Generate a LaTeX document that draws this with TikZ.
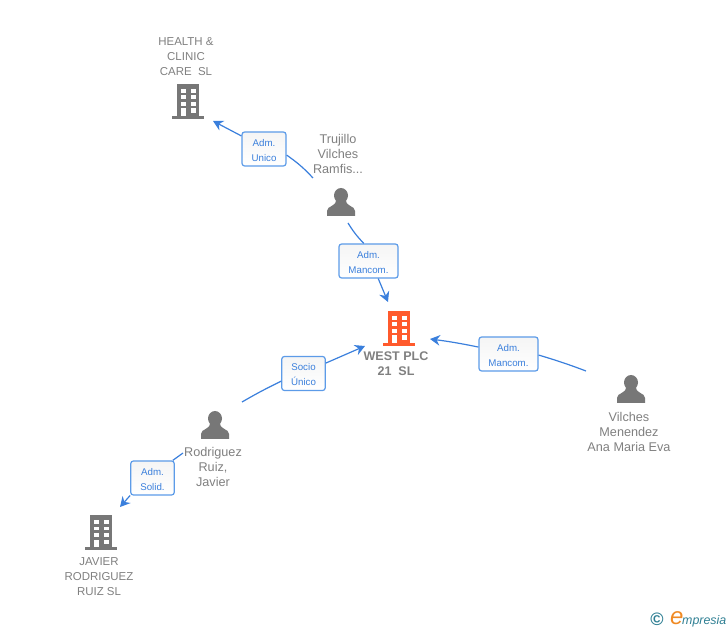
\documentclass[tikz,border=0pt]{standalone}
\usepackage{fontspec}
\setmainfont{Liberation Sans}
\usepackage{xcolor}
\usetikzlibrary{arrows.meta,positioning}
\definecolor{linkblue}{HTML}{3A7FDC}
\definecolor{boxblue}{HTML}{5C9BE8}
\definecolor{iconblack}{HTML}{777777}
\definecolor{iconorange}{HTML}{FF5A2C}
\definecolor{namegrey}{HTML}{808080}
\definecolor{logoteal}{HTML}{2F7F93}
\definecolor{logoorange}{HTML}{F08A24}
\newcommand{\rolelines}[2]{\rule{0pt}{7pt}#1\\#2}
\tikzset{
	entity/.style={text=namegrey, align=center, inner sep=0pt},
	firm/.style={entity, font=\fontsize{8.6}{11.25}\selectfont},
	person/.style={entity, font=\fontsize{9.5}{11.25}\selectfont},
	main firm/.style={entity, font=\fontsize{9.4}{11.25}\selectfont\bfseries},
	role/.style={draw=boxblue, line width=.9pt, rounded corners=2pt, top color=black!4, bottom color=white,
		text=linkblue, align=center, inner sep=0pt, minimum height=25.5pt, minimum width=#1*.75pt,
		font=\fontsize{7.3}{11.25}\selectfont},
	role/.default=59,
	ar/.style={draw=linkblue, line width=.9pt, -{Stealth[length=7.5pt,width=8pt,inset=2.5pt]}},
	ln/.style={draw=linkblue, line width=.9pt},
	building/.pic={
		\fill[pic actions] (-11,-17) rectangle (11,16);
		\fill[pic actions] (-16,15) rectangle (16,18);
		\foreach \r in {-12,-5.5,1} {
			\fill[white] (-7,\r) rectangle +(4.5,3.6);
			\fill[white] (3,\r) rectangle +(4.5,3.6);
		}
		\fill[white] (-7,7.5) rectangle (-2.5,15);
		\fill[white] (3,7.5) rectangle (7.5,12);
	},
	silhouette/.pic={
		\fill[pic actions] (0,-6.5) circle[x radius=7, y radius=7.5];
		\fill[pic actions] (-14,14) -- (-14,9) .. controls (-14,3.5) and (-5,5) .. (-5,-2)
			-- (5,-2) .. controls (5,5) and (14,3.5) .. (14,9) -- (14,14) -- cycle;
	}
}

\begin{document}
\begin{tikzpicture}[x=.75pt,y=-.75pt]
  \useasboundingbox (0,0) rectangle (728,630);

  \pic[fill=iconblack] at (188,101) {building};
  \pic[fill=iconorange] at (399,328) {building};
  \pic[fill=iconblack] at (101,532) {building};
  \pic[fill=iconblack] at (341,202) {silhouette};
  \pic[fill=iconblack] at (215,425) {silhouette};
  \pic[fill=iconblack] at (631,389) {silhouette};

  \node[firm] (health) at (186,57) {HEALTH \&\\CLINIC\\CARE\ \ SL};
  \node[person] (trujillo) at (338,154) {Trujillo\\Vilches\\Ramfis...};
  \node[main firm] (west) at (396,364) {WEST PLC\\21\ \ SL};
  \node[person] (vilches) at (629,432) {Vilches\\Menendez\\Ana Maria Eva};
  \node[person] (rodriguez) at (213,467) {Rodriguez\\Ruiz,\\Javier};
  \node[firm] (javier) at (99,577) {JAVIER\\RODRIGUEZ\\RUIZ SL};

  \node[role=44] (unico) at (264,149) {\rolelines{Adm.}{Unico}};
  \node[role] (mancomtop) at (368.5,261) {\rolelines{Adm.}{Mancom.}};
  \node[role] (mancomright) at (508.5,354) {\rolelines{Adm.}{Mancom.}};
  \node[role=43.5] (socio) at (303.5,373.5) {\rolelines{Socio}{Único}};
  \node[role=43.5] (solid) at (152.5,478) {\rolelines{Adm.}{Solid.}};

  \coordinate (healthtip) at (213,121);
  \coordinate (westtiptop) at (388,302);
  \coordinate (westtipright) at (430,339);
  \coordinate (westtipleft) at (365,346);
  \coordinate (javiertip) at (120,507);
  \coordinate (trujilloa) at (313,178);
  \coordinate (trujillob) at (348,223);
  \coordinate (vilchesa) at (586,371);
  \coordinate (rodrigueza) at (242,402);
  \coordinate (rodriguezb) at (183,453);

  \draw[ln] (trujilloa) to[bend right=6] (unico.-15);
  \draw[ar] (unico.150) -- (healthtip);
  \draw[ln] (trujillob) to[bend right=6] (mancomtop.105);
  \draw[ar] (mancomtop.-61) -- (westtiptop);
  \draw[ln] (vilchesa) to[bend right=2] (mancomright.-2);
  \draw[ar] (mancomright.167) to[bend right=2] (westtipright);
  \draw[ln] (rodrigueza) to[bend left=2] (socio.199);
  \draw[ar] (socio.25) -- (westtipleft);
  \draw[ln] (rodriguezb) -- (solid.41);
  \draw[ar] (solid.218) -- (javiertip);

  \node[text=logoteal, font=\fontsize{13.5}{13.5}\selectfont\bfseries, inner sep=0pt] (copyr) at (657,619) {©};
  \node[right=4.5pt of copyr, inner sep=0pt, text=logoteal, font=\fontsize{9.3}{9.3}\selectfont\itshape] (logo)
    {\textcolor{logoorange}{\fontsize{18}{18}\selectfont e}\kern-1pt mpresia};
\end{tikzpicture}
\end{document}
